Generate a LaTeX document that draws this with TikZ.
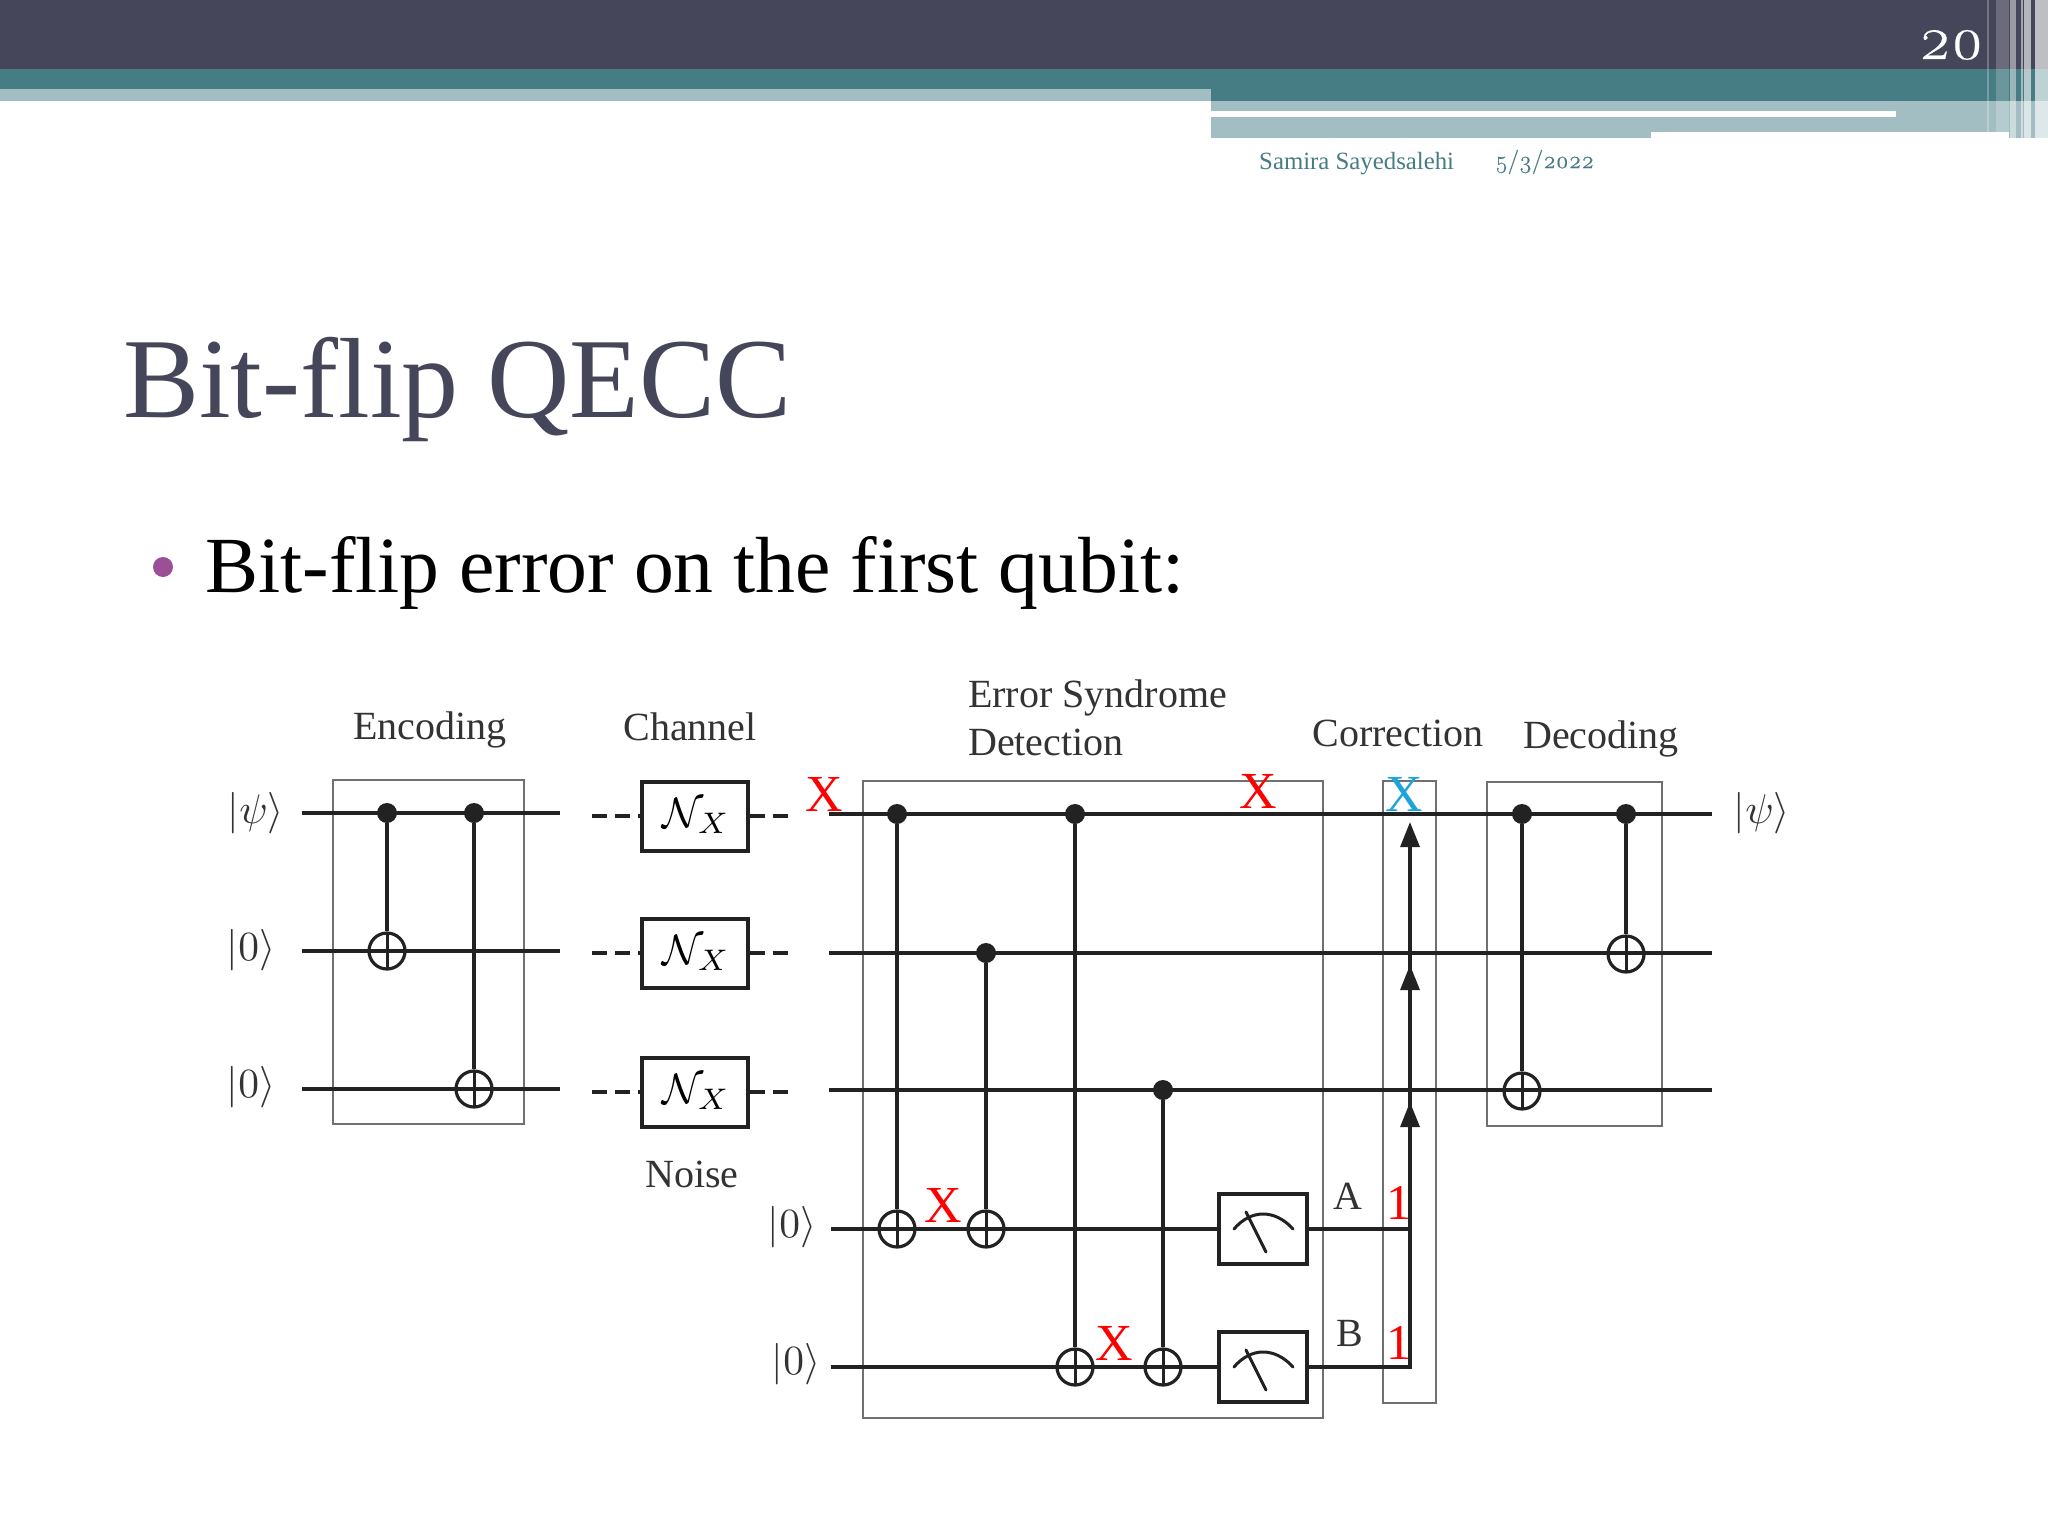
\documentclass[tikz,border=0pt]{standalone}
\usepackage{fontspec}
\setmainfont{Liberation Serif}
\newfontfamily\oldf[Numbers=OldStyle,FakeBold=0.4]{Latin Modern Roman}
\usetikzlibrary{arrows.meta}
\definecolor{hdark}{HTML}{46465A}
\definecolor{hteal}{HTML}{467C84}
\definecolor{hlight}{HTML}{A3BEC3}
\definecolor{bul}{HTML}{9B4F96}
\definecolor{xblue}{HTML}{1CA5DC}
\definecolor{capt}{HTML}{333333}
\definecolor{boxg}{HTML}{707070}
\definecolor{wire}{HTML}{222222}
\newcommand{\fsz}[1]{\fontsize{#1}{#1}\selectfont}
\tikzset{
  wireln/.style={line width=3.2pt,draw=wire},
  ctl/.style={line width=3.4pt,draw=wire},
  dashln/.style={line width=3.2pt,draw=wire,dash pattern=on 15pt off 8pt},
  stagebox/.style={rectangle,draw=boxg,line width=2.4pt,fill=none,inner sep=0pt},
  dot/.style={circle,fill=wire,inner sep=0pt,minimum size=20pt},
  targ/.style={circle,draw=wire,line width=3.2pt,inner sep=0pt,minimum size=36pt,
    path picture={\draw[wire,line width=3pt] (path picture bounding box.north)--(path picture bounding box.south);}},
  noisebox/.style={rectangle,draw=wire,line width=4pt,fill=white,inner sep=0pt,minimum width=106pt,minimum height=69pt},
  meterbox/.style={rectangle,draw=wire,line width=3.4pt,fill=white,inner sep=0pt,minimum width=88pt,minimum height=70pt},
  captn/.style={text=capt,font=\fsz{40},inner sep=0pt},
  redx/.style={text=red,font=\fsz{52},inner sep=0pt},
  ket/.style={text=capt,inner sep=0pt},
  corarrow/.style={line width=3.2pt,draw=wire,-{Triangle[length=25pt,width=19pt]}},
  gauge/.pic={
    \draw[wire,line width=3pt,line cap=round] (-29,0) .. controls (-12,-20) and (12,-20) .. (30,0);
    \draw[wire,line width=3pt,line cap=round] (-17,-17) -- (3,23);
  }
}
\newcommand{\NX}{\hspace{4pt}\raisebox{-4pt}{\scalebox{4.25}{$\mathcal{N}_{X}$}}}
\newcommand{\kpsi}{\scalebox{4.15}{$|\psi\rangle$}}
\newcommand{\kz}{\scalebox{4.15}{$|0\rangle$}}
\begin{document}
\begin{tikzpicture}[x=1pt,y=-1pt]
\useasboundingbox (0,0) rectangle (2048,1536);
\fill[white] (0,0) rectangle (2048,1536);
% header
\fill[hlight] (0,89) rectangle (1211,101);
\fill[hlight] (1211,101) rectangle (2048,138);
\fill[hdark] (0,0) rectangle (2048,69);
\fill[hteal] (0,69) rectangle (2048,89);
\fill[hteal] (1211,89) rectangle (2048,101);
\fill[white] (1211,111) rectangle (1896,117);
\fill[white] (1651,132) rectangle (2009,138);
\foreach \a/\b/\o in {1987/1989/.25,1996/2009/.2,2010/2016/.45,2021/2023/.5,2024/2031/.6,2035/2048/.65}{
  \fill[white,opacity=\o] (\a,0) rectangle (\b,138);
}
\node[text=white,font=\oldf\fsz{62},inner sep=0pt] (pagenum) at (1951,45) {20};
\node[text=hteal,font=\fsz{24.8},anchor=west,inner sep=0pt] (author) at (1259,164) {Samira Sayedsalehi};
\node[text=hteal,font=\oldf\fsz{24.4},anchor=west,inner sep=0pt] (datet) at (1495,162) {5/3/2022};
% title
\node[text=hdark,font=\fsz{114},anchor=base west,inner sep=0pt] (title) at (123,417) {Bit-flip QECC};
\fill[bul] (163,567) circle (10);
\node[font=\fsz{79.6},anchor=base west,inner sep=0pt] (bullet) at (205,592) {Bit-flip error on the first qubit:};
% stage boxes
\node[stagebox,minimum width=191pt,minimum height=344pt] (encbox) at (428.5,952) {};
\node[stagebox,minimum width=460pt,minimum height=637pt] (detbox) at (1093,1099.5) {};
\node[stagebox,minimum width=53pt,minimum height=622pt] (corbox) at (1409.5,1092) {};
\node[stagebox,minimum width=175pt,minimum height=344pt] (decbox) at (1574.5,954) {};
% encoding wires
\foreach \n/\y in {1/813,2/951,3/1089}{
  \coordinate (ea\n) at (302,\y);
  \coordinate (eb\n) at (560,\y);
  \draw[wireln] (ea\n) -- (eb\n);
}
\node[dot] (e1c) at (387,813) {};
\node[targ] (e1t) at (387,951) {};
\draw[ctl] (e1c) -- (e1t);
\node[dot] (e2c) at (474,813) {};
\node[targ] (e2t) at (474,1089) {};
\draw[ctl] (e2c) -- (e2t);
% noise
\foreach \n/\y in {1/816,2/953,3/1092}{
  \node[noisebox] (nb\n) at (694.5,\y) {\NX};
  \coordinate (da\n) at (592,\y);
  \coordinate (db\n) at (795,\y);
  \draw[dashln] (da\n) -- (nb\n.west);
  \draw[dashln] (nb\n.east) -- (db\n);
}
% main wires
\foreach \n/\y in {1/814,2/953,3/1090}{
  \coordinate (ma\n) at (829,\y);
  \coordinate (mb\n) at (1712,\y);
  \draw[wireln] (ma\n) -- (mb\n);
}
% ancilla wires and meters
\node[meterbox] (m1) at (1263,1229) {};
\node[meterbox] (m2) at (1263,1367) {};
\pic at (m1) {gauge};
\pic at (m2) {gauge};
\coordinate (anc1) at (831,1229);
\coordinate (anc2) at (831,1367);
\draw[wireln] (anc1) -- (m1.west);
\draw[wireln] (anc2) -- (m2.west);
% syndrome CNOTs
\node[dot] (s1c) at (897,814) {};
\node[targ] (s1t) at (897,1229) {};
\draw[ctl] (s1c) -- (s1t);
\node[dot] (s2c) at (986,953) {};
\node[targ] (s2t) at (986,1229) {};
\draw[ctl] (s2c) -- (s2t);
\node[dot] (s3c) at (1075,814) {};
\node[targ] (s3t) at (1075,1367) {};
\draw[ctl] (s3c) -- (s3t);
\node[dot] (s4c) at (1163,1090) {};
\node[targ] (s4t) at (1163,1367) {};
\draw[ctl] (s4c) -- (s4t);
% correction
\coordinate (c1) at (1410,1229);
\coordinate (c2) at (1410,1367);
\coordinate (ct3) at (1410,1102);
\coordinate (ct2) at (1410,965);
\coordinate (ct1) at (1410,822);
\coordinate (cb1) at (1410,840);
\draw[wireln] (m1.east) -- (c1);
\draw[wireln,line join=miter] (m2.east) -- (c2) -- (cb1);
\draw[corarrow] (c1) -- (ct3);
\draw[corarrow] (ct3) -- (ct2);
\draw[corarrow] (ct2) -- (ct1);
% decoding
\node[dot] (d1c) at (1522,814) {};
\node[targ] (d1t) at (1522,1091) {};
\draw[ctl] (d1c) -- (d1t);
\node[dot] (d2c) at (1626,814) {};
\node[targ] (d2t) at (1626,954) {};
\draw[ctl] (d2c) -- (d2t);
% captions
\node[captn] (lenc) at (430,730) {Encoding};
\node[captn] (lcha) at (690,727) {Channel};
\node[captn,anchor=west] (lerr) at (968,698) {Error Syndrome};
\node[captn,anchor=west] (ldet) at (968,742) {Detection};
\node[captn] (lcor) at (1398,733) {Correction};
\node[captn] (ldec) at (1601,739) {Decoding};
\node[captn] (lnoi) at (692,1174) {Noise};
\node[captn] (la) at (1348,1196) {A};
\node[captn] (lb) at (1350,1333) {B};
% kets
\node[ket] (k1) at (256,813) {\kpsi};
\node[ket] (k2) at (251,950) {\kz};
\node[ket] (k3) at (251,1087) {\kz};
\node[ket] (k4) at (792,1227) {\kz};
\node[ket] (k5) at (796,1364) {\kz};
\node[ket] (k6) at (1762,813) {\kpsi};
% errors
\node[redx] (x1) at (824,794) {X};
\node[redx] (x2) at (1258,791) {X};
\node[redx,text=xblue] (x3) at (1404,794) {X};
\node[redx] (x4) at (943,1205) {X};
\node[redx] (x5) at (1114,1343) {X};
\node[redx,font=\fsz{50}] (o1) at (1399,1203) {1};
\node[redx,font=\fsz{50}] (o2) at (1399,1343) {1};
\end{tikzpicture}
\end{document}
